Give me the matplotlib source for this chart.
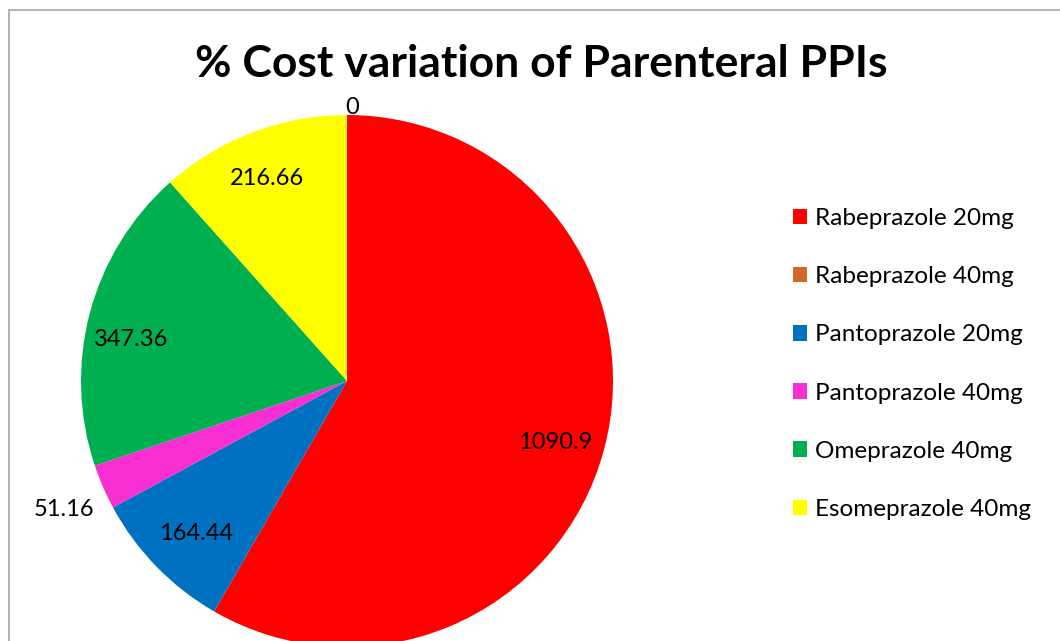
import numpy as np
import matplotlib as mpl
mpl.use('Agg')
import matplotlib.pyplot as plt
from matplotlib.patches import Rectangle
from matplotlib.transforms import offset_copy

plt.rcParams['font.family'] = ['Lato', 'DejaVu Sans']

drugs = ['Rabeprazole 20mg', 'Rabeprazole 40mg', 'Pantoprazole 20mg',
         'Pantoprazole 40mg', 'Omeprazole 40mg', 'Esomeprazole 40mg']
cost_var = [1090.9, 0, 164.44, 51.16, 347.36, 216.66]
value_labels = ['1090.9', '0', '164.44', '51.16', '347.36', '216.66']
colors = ['#FF0000', '#D2692A', '#0070C0', '#F72ED1', '#00B050', '#FFFF00']

W, H = 1060, 641
fig = plt.figure(figsize=(W / 100, H / 100), dpi=100)

# chart frame (left/top edges visible only)
fig.patches.append(Rectangle((9 / W, -0.1), 1.2, (H - 10) / H + 0.1,
                             transform=fig.transFigure, fill=False,
                             edgecolor='#A6A6A6', linewidth=1.2))

cx, cy, r = 347, 381, 266
ax = fig.add_axes([(cx - r) / W, (H - cy - r) / H, 2 * r / W, 2 * r / H])
wedges, _ = ax.pie(cost_var, colors=colors, startangle=90, counterclock=False,
                   radius=1, wedgeprops=dict(linewidth=0))
ax.set_xlim(-1, 1)
ax.set_ylim(-1, 1)
ax.set_aspect('equal')
ax.axis('off')

lab_tr = offset_copy(ax.transData, fig=fig, x=0, y=-4, units='dots')
dist = [0.81, 1.05, 0.79, 1.16, 0.83, 0.84]
nudge = [0, 0, 0, 0, 2.5, 0]  # small angle tweaks, degrees
for w, v, lab, d, n in zip(wedges, cost_var, value_labels, dist, nudge):
    mid = (w.theta1 + w.theta2) / 2 + n
    if v == 0:
        mid = 89  # empty slice label sits at the start of the pie
    a = np.deg2rad(mid)
    ax.text(d * np.cos(a), d * np.sin(a), lab, ha='center', va='center_baseline',
            fontsize=17, color='black', clip_on=False, transform=lab_tr)

fig.text(541 / W, 1 - 64 / H, '% Cost variation of Parenteral PPIs',
         ha='center', va='center', fontsize=32, fontweight='bold')

fig.legend(wedges, drugs, loc='center left', bbox_to_anchor=(771 / W, 1 - 364 / H),
           frameon=False, fontsize=17.5, labelspacing=1.53, handlelength=0.6,
           handleheight=0.6, handletextpad=0.3)

fig.savefig('out.png', dpi=100, facecolor='white')
